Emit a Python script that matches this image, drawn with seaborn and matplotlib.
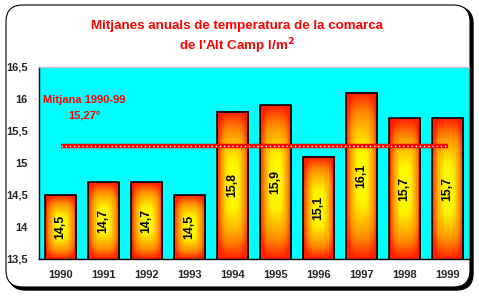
import numpy as np
import pandas as pd
import matplotlib
matplotlib.use("Agg")
import matplotlib.pyplot as plt
import seaborn as sns
from matplotlib.colors import LinearSegmentedColormap
from matplotlib.patches import FancyBboxPatch

years = ["1990", "1991", "1992", "1993", "1994", "1995", "1996", "1997", "1998", "1999"]
temps = [14.5, 14.7, 14.7, 14.5, 15.8, 15.9, 15.1, 16.1, 15.7, 15.7]
mean_value = 15.27
yticks = [13.5, 14.0, 14.5, 15.0, 15.5, 16.0, 16.5]
title_line1 = "Mitjanes anuals de temperatura de la comarca"
title_line2 = "de l'Alt Camp l/m$^2$"
mean_label1 = "Mitjana 1990-99"
mean_label2 = "15,27º"

sns.set_theme(style="white")
plt.rcParams['font.family'] = ['Liberation Sans', 'DejaVu Sans']
plt.rcParams['font.weight'] = 'bold'
plt.rcParams['mathtext.default'] = 'bf'

W, H = 479, 296
fig = plt.figure(figsize=(W / 100, H / 100), dpi=100)
fig.patch.set_facecolor("white")

# frame with shadow
shadow = FancyBboxPatch((9 / W, 6 / H), 464 / W, 283 / H,
                        boxstyle="round,pad=0,rounding_size=0.035",
                        transform=fig.transFigure, facecolor="black", edgecolor="black",
                        mutation_aspect=W / H, zorder=0)
frame = FancyBboxPatch((6 / W, 9 / H), 464 / W, 282 / H,
                       boxstyle="round,pad=0,rounding_size=0.035",
                       transform=fig.transFigure, facecolor="white", edgecolor="black",
                       linewidth=0.8, mutation_aspect=W / H, zorder=0.5)
fig.patches.extend([shadow, frame])

ax = fig.add_axes([39 / W, 1 - 259 / H, 430 / W, 192 / H])
ax.set_zorder(2)
ax.set_facecolor("#00FFFF")

df = pd.DataFrame({"year": years, "temp": temps})
sns.barplot(data=df, x="year", y="temp", ax=ax, width=0.74,
            facecolor="none", edgecolor="black", linewidth=1.2, zorder=3)

cmap = LinearSegmentedColormap.from_list(
    "grad", [(0, "#FFFF00"), (0.35, "#FFF200"), (0.75, "#FF8C00"), (1, "#FF2000")])
n = 240
u = np.linspace(-1, 1, n)
U, V = np.meshgrid(u, u)
D = (np.abs(U) ** 4 + np.abs(V) ** 4) ** 0.25
D = np.clip(D, 0, 1)

for p, t in zip(ax.patches, temps):
    x0, w = p.get_x(), p.get_width()
    y0 = 13.5
    y1 = t
    ax.imshow(D, cmap=cmap, vmin=0, vmax=1, extent=(x0, x0 + w, y0, y1),
              aspect="auto", zorder=2, interpolation="bilinear")
    ax.text(x0 + w / 2, (y0 + y1) / 2, f"{t:.1f}".replace(".", ","),
            rotation=90, ha="center", va="center", fontsize=8.8, fontweight="bold",
            color="black", zorder=4)
ax.set_xlim(-0.5, len(years) - 0.5)
ax.set_ylim(13.5, 16.5)

# mean line
ax.plot([0, len(years) - 1], [mean_value, mean_value], color="#FF0000", lw=3.2,
        solid_capstyle="butt", zorder=5)
ax.plot([0, len(years) - 1], [mean_value, mean_value], color="white", lw=1.0,
        linestyle=(0, (1, 2)), zorder=6)
ax.text(0.01, 0.826, mean_label1, transform=ax.transAxes, color="#FF0000",
        fontsize=8, fontweight="bold", ha="left", va="center", zorder=7)
ax.text(0.105, 0.75, mean_label2, transform=ax.transAxes, color="#FF0000",
        fontsize=8, fontweight="bold", ha="center", va="center", zorder=7)

ax.set_yticks(yticks)
ax.set_yticklabels([("%g" % v).replace(".", ",") for v in yticks],
                   fontsize=8, fontweight="bold")
ax.set_xticks(range(len(years)))
ax.set_xticklabels(years, fontsize=8, fontweight="bold")
ax.set_xticks(np.arange(-0.5, len(years), 1.0), minor=True)
ax.tick_params(axis="x", which="major", length=0, pad=8)
ax.tick_params(axis="x", which="minor", length=4, width=1, color="black", direction="out")
ax.tick_params(axis="y", length=5, width=1, color="black", direction="out", pad=3)
ax.set_xlabel("")
ax.set_ylabel("")
for s in ["left", "bottom"]:
    ax.spines[s].set_color("black")
    ax.spines[s].set_linewidth(1.0)
ax.spines["top"].set_color("#C0C0C0")
ax.spines["top"].set_linewidth(1.0)
ax.spines["right"].set_visible(False)

fig.text(237 / W, 1 - 26 / H, title_line1, color="#FF0000", fontsize=9.6,
         fontweight="bold", ha="center", va="center", zorder=3)
fig.text(237 / W, 1 - 46 / H, title_line2, color="#FF0000", fontsize=9.6,
         fontweight="bold", ha="center", va="center", zorder=3)

fig.savefig("out.png", dpi=100)
